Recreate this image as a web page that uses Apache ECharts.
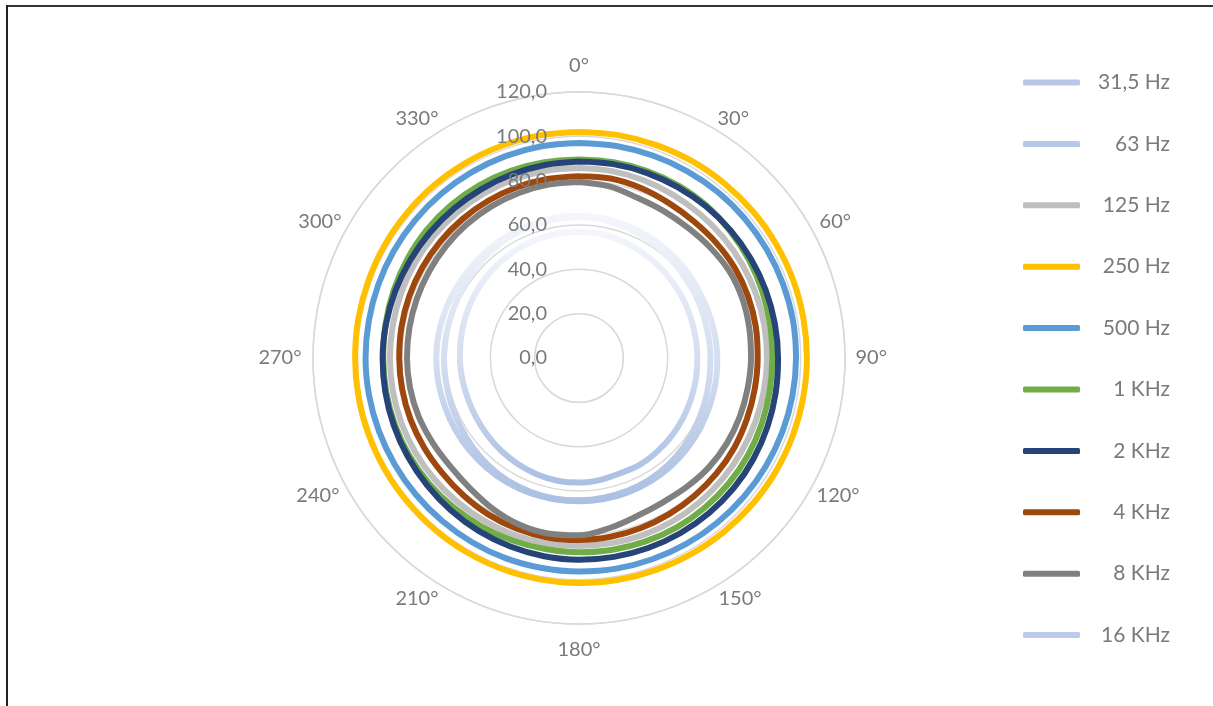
<!DOCTYPE html>
<html><head><meta charset="utf-8">
<script src="https://cdn.jsdelivr.net/npm/echarts@6/dist/echarts.min.js"></script>
<style>html,body{margin:0;padding:0;background:#fff;}#c{width:1213px;height:706px;}</style>
</head><body><div id="c"></div>
<script>
const angles = [0,10,20,30,40,50,60,70,80,90,100,110,120,130,140,150,160,170,180,190,200,210,220,230,240,250,260,270,280,290,300,310,320,330,340,350];
const seriesNames = ['31,5 Hz','63 Hz','125 Hz','250 Hz','500 Hz','1 KHz','2 KHz','4 KHz','8 KHz','16 KHz'];
const hz31 = [64.2,64.0,63.5,63.2,62.8,62.4,62.0,62.0,62.2,62.4,62.6,62.8,63.2,63.6,64.0,64.3,64.5,64.6,64.6,64.7,64.8,64.8,64.7,64.6,64.5,64.4,64.4,64.4,64.3,64.0,63.8,63.6,63.7,63.9,64.0,64.2];
const hz63 = [63.6,63.3,62.6,61.8,61.0,60.3,59.8,59.4,59.2,59.3,59.6,60.2,61.0,62.0,62.8,63.4,63.8,64.0,64.2,64.3,64.2,64.0,63.4,62.6,61.8,61.3,61.0,60.9,60.8,60.8,61.2,61.8,62.4,62.9,63.3,63.5];
const hz125 = [85.7,85.6,85.3,85.0,84.8,84.8,84.9,84.9,84.9,84.8,84.7,84.6,84.6,84.7,84.8,84.9,84.9,84.8,84.8,84.9,85.0,85.0,85.0,85.1,85.2,85.3,85.3,85.3,85.3,85.4,85.5,85.6,85.6,85.7,85.8,85.8];
const hz250 = [102.0,102.1,102.2,102.4,102.5,102.6,102.7,102.8,102.8,102.8,102.7,102.6,102.5,102.3,102.1,101.9,101.7,101.6,101.5,101.4,101.3,101.2,101.1,101.0,101.0,101.0,101.0,101.0,101.1,101.2,101.4,101.5,101.7,101.8,101.9,102.0];
const hz500 = [97.0,97.1,97.2,97.4,97.6,97.7,97.8,97.9,98.0,97.9,97.8,97.6,97.4,97.2,97.0,96.8,96.6,96.5,96.3,96.2,96.2,96.1,96.0,96.0,96.0,96.1,96.2,96.3,96.3,96.4,96.5,96.6,96.7,96.8,96.9,97.0];
const khz1 = [89.6,89.7,89.8,89.8,89.6,89.0,88.5,88.0,87.5,87.2,87.3,87.6,87.9,88.1,88.2,88.2,88.0,87.8,87.6,87.5,87.6,87.8,88.0,88.2,88.3,88.3,88.3,88.3,88.6,89.0,89.4,89.8,90.0,90.0,89.9,89.7];
const khz2 = [88.6,88.8,88.9,89.0,89.2,89.4,89.5,89.6,89.7,89.8,90.1,90.5,90.9,91.2,91.3,91.3,91.2,91.1,91.0,90.8,90.5,90.2,89.8,89.4,89.1,88.9,88.7,88.6,88.4,88.2,88.0,87.9,87.9,88.0,88.2,88.4];
const khz4 = [82.0,82.2,81.6,80.8,80.5,80.8,81.2,81.2,81.0,80.6,80.5,80.6,80.9,81.0,81.1,81.3,81.6,81.9,82.1,82.2,82.0,81.6,81.0,80.6,80.7,80.9,81.0,81.1,81.3,81.5,81.6,81.7,81.8,81.9,82.0,82.0];
const khz8 = [79.4,78.6,76.9,76.5,76.6,77.4,78.3,78.4,78.0,77.6,77.3,77.2,77.0,76.6,75.8,75.3,76.0,78.0,80.0,80.4,79.8,78.3,76.6,75.9,76.3,77.0,77.4,77.6,77.7,77.9,78.1,78.4,78.7,79.0,79.2,79.4];
const khz16 = [57.0,56.8,56.2,55.6,55.0,54.4,54.0,53.6,53.4,53.4,53.6,53.8,54.2,54.6,55.0,55.4,55.2,55.8,56.2,56.2,55.8,55.2,54.6,54.0,53.6,53.4,53.5,53.7,54.0,54.5,55.0,55.5,56.0,56.4,56.7,57.0];
const radiusTicks = [0,20,40,60,80,100,120];
const angleTicks = [0,30,60,90,120,150,180,210,240,270,300,330];

const allValues = [hz31,hz63,hz125,hz250,hz500,khz1,khz2,khz4,khz8,khz16];
const solid = ['#b8c9e8','#b8c9e8','#bfbfbf','#ffc000','#5b9bd5','#70ad47','#264478','#9e480e','#808080','#bccbe9'];
const textColor = '#7a7a7a';
const font = 'Lato, "Liberation Sans", sans-serif';

// label paddings [top,right,bottom,left] to centre angle labels like the original
const angPad = {0:[0,0,73,0],30:[0,0,32,15.5],60:[0,0,6,27.5],90:[0,0,0,30.5],120:[10,0,0,24.5],150:[36,0,0,16.5],
  180:[72,0,0,0],210:[36,17.5,0,0],240:[10,26.5,0,0],270:[0,31.5,0,0],300:[0,24.5,6,0],330:[0,17.5,32,0]};
const rich = {};
angleTicks.forEach(a=>{ rich['a'+a] = {padding: angPad[a], fontSize:20, lineHeight:20, color:textColor, fontFamily:font}; });

function grad(){
  return new echarts.graphic.LinearGradient(0,0,0,1,[
    {offset:0,color:'#f4f6fb'},{offset:0.5,color:'#d4def0'},{offset:1,color:'#aabfe2'}]);
}

const chart = echarts.init(document.getElementById('c'), null, {renderer:'canvas'});
const series = allValues.map((vals,i)=>{
  const closed = vals.concat([vals[0]]);
  const ang = angles.concat([360]);
  const isGrad = (i===0||i===1||i===9);
  return {
    name: seriesNames[i], type:'line', coordinateSystem:'polar', polarIndex:0, symbol:'none', smooth:0.35,
    data: closed.map((v,j)=>[v, ang[j]]),
    lineStyle:{width:6, color: isGrad ? grad() : solid[i], cap:'round', join:'round'},
    itemStyle:{color: solid[i]},
    emphasis:{disabled:true}, animation:false
  };
});

chart.setOption({
  animation:false,
  backgroundColor:'#ffffff',
  polar:[{center:[579,358], radius:266},{center:[579,358], radius:266}],
  angleAxis:[{
    polarIndex:0, type:'value', min:0, max:360, interval:30, startAngle:90, clockwise:true,
    axisLine:{show:true, lineStyle:{color:'#d9d9d9', width:1.5}},
    axisTick:{show:false}, splitLine:{show:false},
    axisLabel:{color:textColor, fontSize:20, fontFamily:font, margin:-20, rich:rich,
      formatter:v=> (v>=360 || angleTicks.indexOf(v)<0 ? '' : '{a'+v+'|'+v+'°}')}
  },{
    polarIndex:1, type:'value', min:0, max:360, interval:30, startAngle:90, clockwise:true,
    axisLine:{show:false}, axisTick:{show:false}, splitLine:{show:false}, axisLabel:{show:false}
  }],
  radiusAxis:[{
    polarIndex:0, type:'value', min:radiusTicks[0], max:radiusTicks[radiusTicks.length-1], interval:20,
    axisLine:{show:false}, axisTick:{show:false},
    splitLine:{show:true, lineStyle:{color:'#d9d9d9', width:1.5}},
    axisLabel:{show:false}
  },{
    polarIndex:1, z:10, type:'value', min:radiusTicks[0], max:radiusTicks[radiusTicks.length-1], interval:20,
    axisLine:{show:false}, axisTick:{show:false}, splitLine:{show:false},
    axisLabel:{color:textColor, fontSize:20, fontFamily:font, margin:32,
      formatter:v=> v.toFixed(1).replace('.',',')}
  }],
  legend:{
    orient:'vertical', left:1023, top:72, padding:0, itemWidth:57, itemHeight:6, itemGap:40.4,
    icon:'roundRect', selectedMode:false,
    data: seriesNames,
    formatter: n=>'{a|'+n+'}',
    textStyle:{rich:{a:{width:85, align:'right', fontSize:21, lineHeight:24, color:textColor, fontFamily:font}}}
  },
  graphic:[
    {type:'line', shape:{x1:6,y1:6,x2:1213,y2:6}, style:{stroke:'#333',lineWidth:2}},
    {type:'line', shape:{x1:7,y1:5,x2:7,y2:706}, style:{stroke:'#222',lineWidth:2}}
  ],
  series: series
});
</script></body></html>
